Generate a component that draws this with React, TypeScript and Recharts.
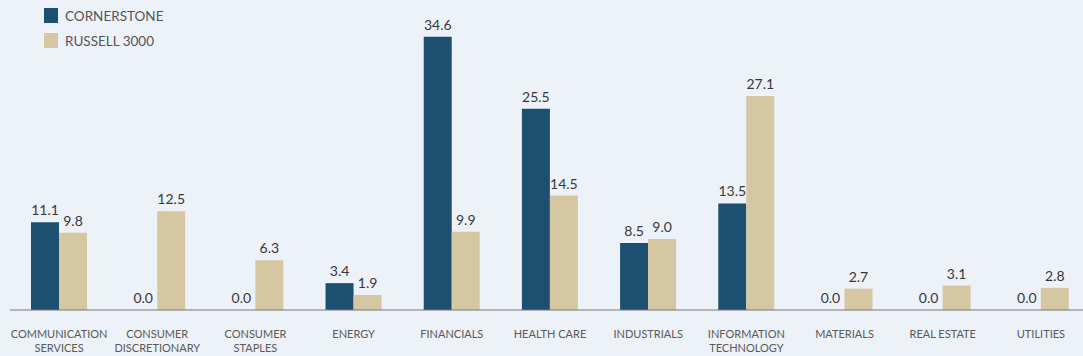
import { BarChart, Bar, XAxis, YAxis, LabelList } from "recharts";

const sectors = [
  "COMMUNICATION\nSERVICES",
  "CONSUMER\nDISCRETIONARY",
  "CONSUMER\nSTAPLES",
  "ENERGY",
  "FINANCIALS",
  "HEALTH CARE",
  "INDUSTRIALS",
  "INFORMATION\nTECHNOLOGY",
  "MATERIALS",
  "REAL ESTATE",
  "UTILITIES",
];
const cornerstone = [11.1, 0.0, 0.0, 3.4, 34.6, 25.5, 8.5, 13.5, 0.0, 0.0, 0.0];
const russell3000 = [9.8, 12.5, 6.3, 1.9, 9.9, 14.5, 9.0, 27.1, 2.7, 3.1, 2.8];

const seriesNames = ["CORNERSTONE", "RUSSELL 3000"];
const colors = ["#1d4f70", "#d5c7a1"];

const data = sectors.map((s, i) => ({
  sector: s,
  cornerstone: cornerstone[i],
  russell: russell3000[i],
}));

const font = "Lato, 'Open Sans', sans-serif";

function SectorTick(props: any) {
  const { x, y, payload } = props;
  const lines = String(payload.value).split("\n");
  return (
    <text
      x={x}
      y={y + 20}
      textAnchor="middle"
      fill="#5a5a5a"
      fontSize={11}
      fontFamily={font}
    >
      {lines.map((l, i) => (
        <tspan key={i} x={x} dy={i === 0 ? 0 : 14}>
          {l}
        </tspan>
      ))}
    </text>
  );
}

function LegendBox() {
  return (
    <div
      style={{
        position: "absolute",
        left: 44,
        top: 3,
        fontFamily: font,
        fontSize: 13.5,
        color: "#555",
      }}
    >
      {seriesNames.map((n, i) => (
        <div
          key={n}
          style={{ display: "flex", alignItems: "center", height: 25 }}
        >
          <span
            style={{
              width: 14,
              height: 15,
              background: colors[i],
              display: "inline-block",
              marginRight: 7,
            }}
          />
          {n}
        </div>
      ))}
    </div>
  );
}

const labelStyle = { fill: "#383838", fontSize: 14, fontFamily: font };
const fmt = (v: any) => Number(v).toFixed(1);

export default function App() {
  return (
    <div
      style={{
        position: "fixed",
        left: 0,
        top: 0,
        width: 1083,
        height: 356,
        background: "#edf1f8",
        overflow: "hidden",
      }}
    >
      <style>{"html,body{margin:0;overflow:hidden;}"}</style>
      <BarChart
        width={1083}
        height={356}
        data={data}
        margin={{ top: 10, right: -7, left: 10, bottom: 0 }}
        barGap={0}
        barSize={28}
      >
        <XAxis
          dataKey="sector"
          interval={0}
          height={46}
          axisLine={{ stroke: "#777", strokeWidth: 1 }}
          tickLine={false}
          tick={<SectorTick />}
        />
        <YAxis hide domain={[0, 38]} />
        <Bar
          dataKey="cornerstone"
          fill={colors[0]}
          minPointSize={0.01}
          isAnimationActive={false}
        >
          <LabelList
            dataKey="cornerstone"
            position="top"
            offset={7}
            formatter={fmt}
            style={labelStyle}
          />
        </Bar>
        <Bar
          dataKey="russell"
          fill={colors[1]}
          minPointSize={0.01}
          isAnimationActive={false}
        >
          <LabelList
            dataKey="russell"
            position="top"
            offset={7}
            formatter={fmt}
            style={labelStyle}
          />
        </Bar>
      </BarChart>
      <LegendBox />
    </div>
  );
}
